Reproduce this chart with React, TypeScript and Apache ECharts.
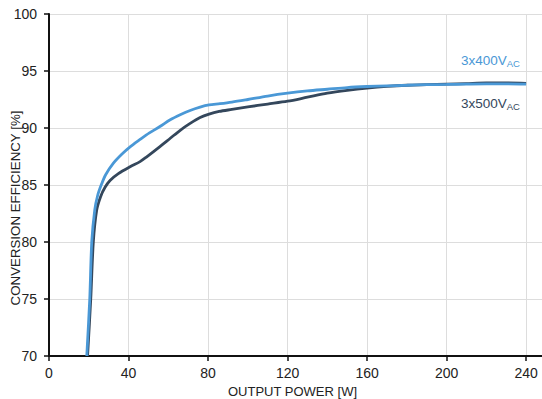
import React, { useEffect, useRef } from "react";
import * as echarts from "echarts";

const FONT = "'Liberation Sans', Arial, sans-serif";

const xTicks = [0, 40, 80, 120, 160, 200, 240];

const power400 = [19, 20.5, 21.5, 23, 24.5, 26.5, 28.5, 32.3, 36.6, 40.8, 45.8, 49, 55.8, 61, 66, 71, 76, 80.5, 86, 92, 100, 110, 120, 130, 140, 150, 160, 170, 180, 190, 200, 210, 220, 230, 240];
const eff400 = [70, 75, 80, 82.8, 84.1, 85.1, 85.9, 86.9, 87.7, 88.35, 89.0, 89.4, 90.13, 90.72, 91.16, 91.54, 91.83, 92.02, 92.13, 92.27, 92.5, 92.8, 93.05, 93.25, 93.4, 93.55, 93.64, 93.7, 93.75, 93.8, 93.82, 93.85, 93.87, 93.87, 93.85];

const power500 = [19.4, 21, 22.3, 24, 26, 28.2, 30.7, 34.9, 40.8, 45.8, 49, 55.8, 61, 66, 71, 76, 80.5, 85.6, 92, 100, 110, 120, 130, 140, 150, 160, 170, 180, 190, 200, 210, 220, 230, 240];
const eff500 = [70, 75, 80, 82.8, 84.0, 84.8, 85.4, 86.0, 86.6, 87.05, 87.45, 88.37, 89.1, 89.8, 90.4, 90.92, 91.22, 91.45, 91.63, 91.85, 92.1, 92.35, 92.7, 93.05, 93.3, 93.5, 93.65, 93.75, 93.8, 93.85, 93.9, 93.95, 93.95, 93.92];

const BLUE = "#4a98d6";
const DARK = "#34475c";

export default function App() {
  const ref = useRef<HTMLDivElement>(null);
  useEffect(() => {
    document.body.style.margin = "0";
    const chart = echarts.init(ref.current!, null, { renderer: "svg" });
    const zip = (xs: number[], ys: number[]) => xs.map((x, i) => [x, ys[i]]);
    chart.setOption({
      animation: false,
      grid: { left: 49, right: 0, top: 14, bottom: 43, containLabel: false, outerBoundsMode: "none" },
      xAxis: {
        type: "value",
        min: 0,
        max: 248,
        interval: 40,
        name: "OUTPUT POWER [W]",
        nameLocation: "middle",
        nameGap: 23,
        nameTextStyle: { fontFamily: FONT, fontSize: 13, color: "#222", padding: [0, 6, 0, 0] },
        axisLine: { show: true, lineStyle: { color: "#111", width: 2 } },
        axisTick: { show: true, customValues: xTicks, length: 5, lineStyle: { color: "#111", width: 1.5 } },
        axisLabel: { customValues: xTicks, fontFamily: FONT, fontSize: 14, color: "#222", margin: 10 },
        splitLine: { show: true, lineStyle: { color: "#dddddd", width: 1 } },
      },
      yAxis: {
        type: "value",
        min: 70,
        max: 100,
        interval: 5,
        axisLine: { show: true, lineStyle: { color: "#111", width: 2 } },
        axisTick: { show: true, length: 5, lineStyle: { color: "#111", width: 1.5 } },
        axisLabel: { fontFamily: FONT, fontSize: 14, color: "#222", margin: 12 },
        splitLine: { show: true, lineStyle: { color: "#dddddd", width: 1 } },
      },
      graphic: [
        {
          type: "text",
          x: 15,
          y: 208,
          rotation: Math.PI / 2,
          style: {
            text: "CONVERSION EFFICIENCY [%]",
            fontFamily: FONT,
            fontSize: 13.3,
            fill: "#222",
            align: "center",
            verticalAlign: "middle",
          },
        },
        {
          type: "text",
          x: 461,
          y: 60,
          style: {
            text: "{m|3x400V}{s|AC}",
            align: "left",
            verticalAlign: "middle",
            rich: {
              m: { fontFamily: FONT, fontSize: 13.5, fill: BLUE, color: BLUE },
              s: { fontFamily: FONT, fontSize: 9.5, fill: BLUE, color: BLUE, padding: [6, 0, 0, 0] },
            },
          },
        },
        {
          type: "text",
          x: 461,
          y: 103,
          style: {
            text: "{m|3x500V}{s|AC}",
            align: "left",
            verticalAlign: "middle",
            rich: {
              m: { fontFamily: FONT, fontSize: 13.5, fill: DARK, color: DARK },
              s: { fontFamily: FONT, fontSize: 9.5, fill: DARK, color: DARK, padding: [6, 0, 0, 0] },
            },
          },
        },
      ],
      series: [
        {
          name: "3x500VAC",
          type: "line",
          data: zip(power500, eff500),
          smooth: 0.3,
          showSymbol: false,
          lineStyle: { color: DARK, width: 2.8 },
          itemStyle: { color: DARK },
          z: 2,
        },
        {
          name: "3x400VAC",
          type: "line",
          data: zip(power400, eff400),
          smooth: 0.3,
          showSymbol: false,
          lineStyle: { color: BLUE, width: 2.8 },
          itemStyle: { color: BLUE },
          z: 3,
        },
      ],
    });
    return () => chart.dispose();
  }, []);
  return <div ref={ref} style={{ width: 542, height: 399 }} />;
}
